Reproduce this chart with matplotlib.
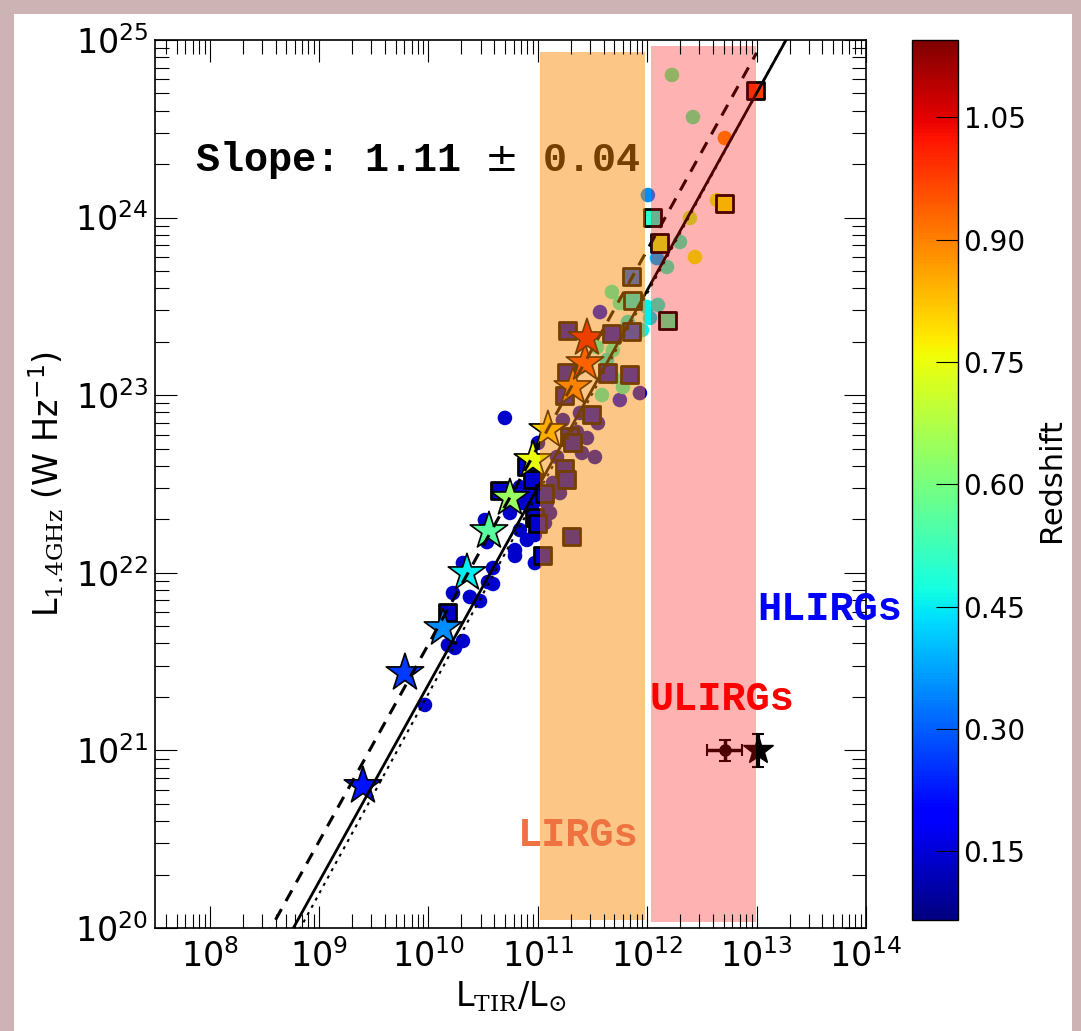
import numpy as np
import matplotlib
matplotlib.use("Agg")
import matplotlib.pyplot as plt
from matplotlib.patches import Rectangle
from matplotlib.ticker import LogLocator, NullFormatter

plt.rcParams['font.family'] = ['DejaVu Sans']
plt.rcParams['mathtext.fontset'] = 'custom'
plt.rcParams['mathtext.rm'] = 'DejaVu Serif'
plt.rcParams['mathtext.it'] = 'DejaVu Serif:italic'
plt.rcParams['mathtext.bf'] = 'DejaVu Serif:bold'

# ---- data (log10 values) ----
# individual galaxies (circles)
circ_lx = [10.699, 11.001, 10.900, 10.946, 10.836, 10.928, 10.864, 10.946, 10.745, 10.836,
           10.900, 10.973, 10.791, 10.791, 10.973, 10.590, 10.544, 10.590, 10.516, 10.535,
           10.315, 10.224, 10.379, 10.471, 10.315, 10.242, 10.178, 9.968, 10.654, 10.992,
           11.458, 11.549, 11.357, 11.449, 11.403, 11.522, 11.175, 11.138, 11.202, 11.083,
           11.111, 11.065, 11.229, 11.385, 11.568, 11.750, 11.933, 11.385,
           11.677, 11.750, 11.824, 11.540, 11.686, 11.632, 11.686, 11.586, 11.778,
           12.006, 12.226, 12.418, 12.710, 12.390, 12.299, 12.436, 12.089, 12.180,
           11.997, 12.098, 12.025, 11.952, 12.637]
circ_ly = [22.872, 22.731, 22.596, 22.523, 22.483, 22.449, 22.393, 22.370, 22.337, 22.241,
           22.185, 22.213, 22.128, 22.095, 22.055, 22.027, 21.948, 21.937, 22.297, 22.173,
           22.055, 21.886, 21.864, 21.841, 21.616, 21.577, 21.593, 21.256, 22.466, 22.410,
           22.900, 22.843, 22.793, 22.759, 22.675, 22.652, 22.652, 22.506, 22.449, 22.393,
           22.337, 22.280, 22.860, 22.900, 23.468, 22.973, 23.012, 23.159,
           23.581, 23.519, 23.412, 23.271, 23.254, 23.198, 23.102, 23.001, 23.046,
           24.127, 24.803, 24.566, 24.448, 23.998, 23.863, 23.778, 23.772, 23.722,
           23.497, 23.508, 23.435, 23.367, 24.099]
circ_z = [0.14] * 30 + [0.14] * 14 + [0.20, 0.20, 0.15, 0.20] + \
         [0.50, 0.50, 0.45, 0.50, 0.50, 0.45, 0.50, 0.50, 0.50] + \
         [0.35, 0.58, 0.56, 0.88, 0.70, 0.52, 0.75, 0.40, 0.52, 0.45, 0.50, 0.45, 0.45, 0.74]

# squares
sq_lx = [10.178, 10.654, 10.900, 10.955, 10.973, 11.001, 11.047, 11.065, 11.248, 11.266,
         11.312, 11.293, 11.321, 11.494, 11.248, 11.266, 11.641, 11.842, 11.275, 11.677,
         11.860, 11.869, 11.860, 12.189, 12.116, 12.052, 12.710, 12.994]
sq_ly = [21.774, 22.466, 22.596, 22.523, 22.314, 22.280, 22.100, 22.449, 22.590, 22.523,
         22.202, 22.765, 22.731, 22.889, 23.001, 23.125, 23.125, 23.114, 23.367, 23.350,
         23.356, 23.536, 23.671, 23.423, 23.857, 24.003, 24.082, 24.718]
sq_z = [0.14, 0.14, 0.14, 0.14, 0.14, 0.14, 0.14, 0.14, 0.14, 0.14,
        0.14, 0.14, 0.14, 0.16, 0.14, 0.14, 0.16, 0.16, 0.14, 0.16,
        0.25, 0.45, 0.30, 0.55, 0.72, 0.50, 0.76, 0.98]

# stacked bins (stars)
star_lx = [9.401, 9.785, 10.133, 10.352, 10.553, 10.745, 10.955, 11.092, 11.321, 11.431, 11.449]
star_ly = [20.800, 21.436, 21.689, 21.999, 22.235, 22.421, 22.635, 22.804, 23.046, 23.181, 23.322]
star_z = [0.22, 0.26, 0.35, 0.45, 0.56, 0.64, 0.75, 0.81, 0.90, 0.97, 1.05]

# high-luminosity stacks with errors
ul_lx, ul_ly, ul_xerr, ul_yerr = 12.71, 21.00, 0.16, 0.06
hl_lx, hl_ly, hl_yerr = 13.01, 21.00, 0.095

# fits: log L1.4 = slope * log LTIR + intercept
fit_solid = (1.11, 10.271)
fit_dashed = (1.11, 10.498)
fit_dotted = (1.127, 10.05)

lirg_band = (11.02, 11.979, 20.045, 24.932)
ulirg_band = (12.034, 12.994, 20.034, 24.966)

zmin, zmax = 0.066, 1.145
cbar_ticks = [0.15, 0.30, 0.45, 0.60, 0.75, 0.90, 1.05]

# ---- figure ----
fig = plt.figure(figsize=(10.81, 10.31), dpi=100)
fig.patch.set_facecolor('#cdb3b3')
fig.patches.append(Rectangle((14 / 1081, 0), 1058 / 1081, 1017 / 1031, transform=fig.transFigure,
                             facecolor='white', edgecolor='none', zorder=-10))

ax = fig.add_axes([155 / 1081, 103 / 1031, 711 / 1081, 888 / 1031])
ax.set_xscale('log')
ax.set_yscale('log')
ax.set_xlim(10 ** 7.5, 1e14)
ax.set_ylim(1e20, 1e25)
ax.set_axisbelow(False)

cx = 10 ** np.array(circ_lx)
cy = 10 ** np.array(circ_ly)
sc = ax.scatter(cx, cy, c=circ_z, cmap='jet', vmin=zmin, vmax=zmax, s=110,
                edgecolors='none', zorder=1.0)
ax.scatter(10 ** np.array(sq_lx), 10 ** np.array(sq_ly), c=sq_z, cmap='jet', vmin=zmin, vmax=zmax,
           marker='s', s=150, edgecolors='k', linewidths=2.0, zorder=1.05)
ax.scatter(10 ** np.array(star_lx), 10 ** np.array(star_ly), c=star_z, cmap='jet', vmin=zmin, vmax=zmax,
           marker='*', s=800, edgecolors='k', linewidths=1.2, zorder=1.1)

x0 = 10 ** ul_lx
y0 = 10 ** ul_ly
ax.errorbar(x0, y0, xerr=[[x0 - 10 ** (ul_lx - ul_xerr)], [10 ** (ul_lx + ul_xerr) - x0]],
            yerr=[[y0 - 10 ** (ul_ly - ul_yerr)], [10 ** (ul_ly + ul_yerr) - y0]],
            fmt='o', color='k', ms=8, elinewidth=2.5, capsize=4, capthick=1.5, zorder=1.1)
x1 = 10 ** hl_lx
y1 = 10 ** hl_ly
ax.errorbar(x1, y1, yerr=[[y1 - 10 ** (hl_ly - hl_yerr)], [10 ** (hl_ly + hl_yerr) - y1]],
            fmt='*', color='k', ms=22, elinewidth=3, capsize=4, capthick=1.5, zorder=1.1)

lgx = np.linspace(7.5, 14, 200)
ax.plot(10 ** lgx, 10 ** (fit_solid[0] * lgx + fit_solid[1]), color='k', lw=2.0, zorder=1.15)
lgd = np.linspace(7.5, 13.0, 200)
ax.plot(10 ** lgd, 10 ** (fit_dashed[0] * lgd + fit_dashed[1]), color='k', lw=2.2,
        ls=(0, (4, 3)), zorder=1.15)
ax.plot(10 ** lgx, 10 ** (fit_dotted[0] * lgx + fit_dotted[1]), color='k', lw=1.5,
        ls=(0, (1.5, 2.5)), zorder=1.15)

ax.text(0.056, 0.853, 'Slope: 1.11 $\\pm$ 0.04', transform=ax.transAxes, fontsize=29,
        family='Liberation Mono', weight='bold', ha='left', va='baseline', zorder=1.2)

ax.fill_between([10 ** lirg_band[0], 10 ** lirg_band[1]], 10 ** lirg_band[2], 10 ** lirg_band[3],
                color=(0.98, 0.53, 0.0), alpha=0.47, lw=0, zorder=2.0)
ax.fill_between([10 ** ulirg_band[0], 10 ** ulirg_band[1]], 10 ** ulirg_band[2], 10 ** ulirg_band[3],
                color=(1.0, 0.0, 0.0), alpha=0.30, lw=0, zorder=2.0)

lab = dict(transform=ax.transAxes, fontsize=29, family='Liberation Mono', weight='bold',
           ha='left', va='baseline', zorder=3)
ax.text(0.5105, 0.092, 'LIRGs', color='#ee7341', **lab)
ax.text(0.696, 0.245, 'ULIRGs', color='#ff0000', **lab)
ax.text(0.847, 0.347, 'HLIRGs', color='#0000ff', **lab)

ax.xaxis.set_major_locator(LogLocator(base=10, numticks=20))
ax.yaxis.set_major_locator(LogLocator(base=10, numticks=20))
ax.xaxis.set_minor_locator(LogLocator(base=10, subs=np.arange(2, 10), numticks=20))
ax.yaxis.set_minor_locator(LogLocator(base=10, subs=np.arange(2, 10), numticks=20))
ax.xaxis.set_minor_formatter(NullFormatter())
ax.yaxis.set_minor_formatter(NullFormatter())
ax.tick_params(which='both', direction='in', top=True, right=True, width=0.8)
ax.tick_params(which='major', length=16, labelsize=24, pad=8)
ax.tick_params(which='minor', length=10)
ax.tick_params(axis='y', which='major', pad=5)
for sp in ax.spines.values():
    sp.set_linewidth(1.2)

ax.set_xlabel(r'L$_{\rm TIR}$/L$_{\odot}$', fontsize=24, labelpad=4)
ax.set_ylabel(r'L$_{\rm 1.4GHz}$ (W Hz$^{\mathdefault{-1}}$)', fontsize=24, labelpad=6)

cax = fig.add_axes([912 / 1081, 111 / 1031, 46 / 1081, 880 / 1031])
cb = fig.colorbar(sc, cax=cax, ticks=cbar_ticks, format='%.2f')
cb.outline.set_linewidth(1.0)
cax.tick_params(direction='in', length=16, width=0.8, labelsize=20, pad=4)
cb.set_label('Redshift', fontsize=22, labelpad=8)

fig.savefig('out.png', dpi=100, facecolor=fig.get_facecolor())
